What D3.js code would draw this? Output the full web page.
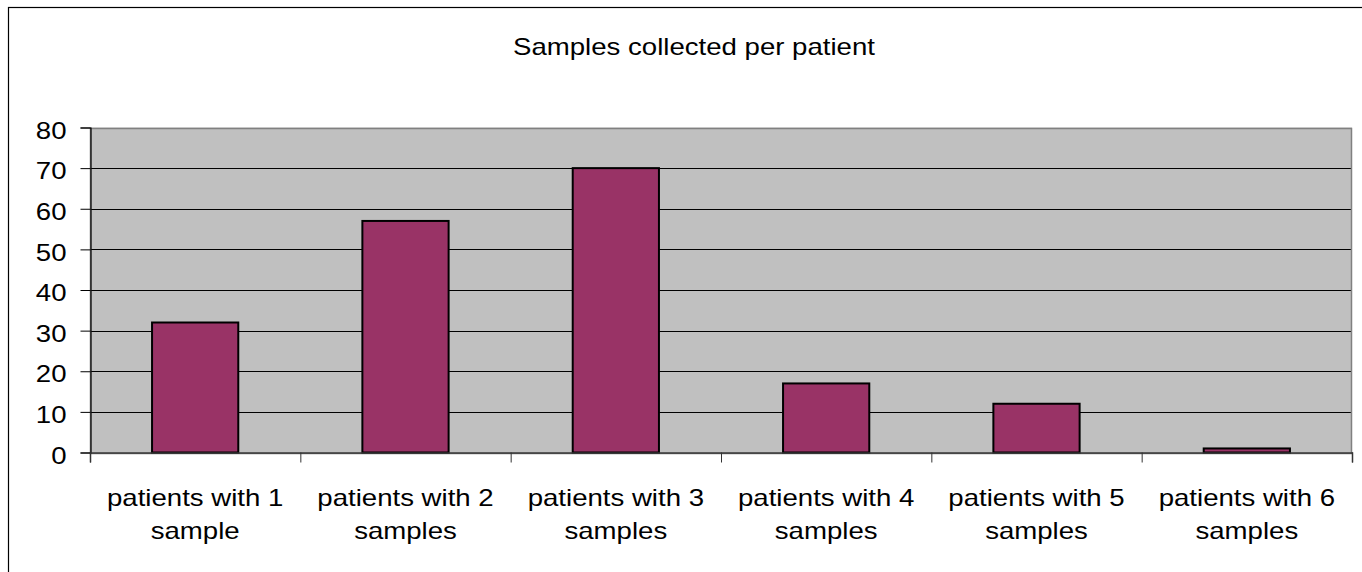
<!DOCTYPE html>
<html>
<head>
<meta charset="utf-8">
<script src="https://cdn.jsdelivr.net/npm/d3@7"></script>
<style>
  html, body { margin: 0; padding: 0; background: #fff; }
  svg { display: block; }
  text { font-family: "Liberation Sans", Arial, sans-serif; fill: #000; }
</style>
</head>
<body>
<svg id="chart" width="1362" height="572"></svg>
<script>
const title = "Samples collected per patient";
const categoryLine1 = ["patients with 1", "patients with 2", "patients with 3", "patients with 4", "patients with 5", "patients with 6"];
const categoryLine2 = ["sample", "samples", "samples", "samples", "samples", "samples"];
const values = [32, 57, 70, 17, 12, 1];
const yTicks = [0, 10, 20, 30, 40, 50, 60, 70, 80];

const W = 1362, H = 572;
const plot = { left: 90, right: 1352, top: 127.5, bottom: 452.5 };
const fontSize = 23;
const stretch = 1.2;

const svg = d3.select("#chart");

// outer chart border (top and left visible)
svg.append("rect")
  .attr("x", 8.5).attr("y", 7.5)
  .attr("width", W + 20).attr("height", H + 20)
  .attr("fill", "#fff").attr("stroke", "#000").attr("stroke-width", 1.2);

const x = d3.scaleBand().domain(d3.range(values.length)).range([plot.left, plot.right]).padding(0);
const y = d3.scaleLinear().domain([0, 80]).range([plot.bottom, plot.top]);

// plot background
svg.append("rect")
  .attr("x", plot.left).attr("y", plot.top)
  .attr("width", plot.right - plot.left).attr("height", plot.bottom - plot.top)
  .attr("fill", "#C0C0C0");

// gridlines
svg.append("g").selectAll("line").data(yTicks.filter(d => d > 0)).join("line")
  .attr("x1", plot.left).attr("x2", plot.right)
  .attr("y1", d => Math.round(y(d)) + 0.5).attr("y2", d => Math.round(y(d)) + 0.5)
  .attr("stroke", "#000").attr("stroke-width", 1);

// plot border
svg.append("rect")
  .attr("x", plot.left + 0.5).attr("y", Math.round(plot.top) + 0.5)
  .attr("width", plot.right - plot.left - 1).attr("height", plot.bottom - plot.top)
  .attr("fill", "none").attr("stroke", "#808080").attr("stroke-width", 1.5);

// bars
const barW = x.bandwidth() * 0.41;
svg.append("g").selectAll("rect").data(values).join("rect")
  .attr("x", (d, i) => x(i) + (x.bandwidth() - barW) / 2)
  .attr("y", d => y(d))
  .attr("width", barW)
  .attr("height", d => y(0) - y(d))
  .attr("fill", "#993366")
  .attr("stroke", "#000").attr("stroke-width", 2);

// y axis
const yAxis = d3.axisLeft(y).tickValues(yTicks).tickSize(10).tickPadding(14);
const gy = svg.append("g").attr("transform", `translate(${plot.left + 0.5},0)`).call(yAxis);
gy.select(".domain").attr("stroke", "#000").attr("stroke-width", 1.2);
gy.selectAll(".tick line").attr("stroke", "#000");
gy.selectAll(".tick text")
  .attr("font-size", fontSize)
  .attr("dy", "0.38em")
  .each(function() {
    const t = d3.select(this);
    const xx = +t.attr("x");
    t.attr("x", null)
     .attr("transform", `translate(${xx},2) scale(${stretch},1)`);
  });

// x axis
const xAxis = d3.axisBottom(d3.scaleLinear().domain([0, values.length]).range([plot.left, plot.right]))
  .tickValues(d3.range(values.length + 1)).tickSize(10).tickFormat("");
const gx = svg.append("g").attr("transform", `translate(0,${plot.bottom})`).call(xAxis);
gx.select(".domain").attr("stroke", "#333").attr("stroke-width", 1.5);
gx.selectAll(".tick line").attr("stroke", "#333");

// category labels
const labels = svg.append("g").selectAll("g").data(values).join("g")
  .attr("transform", (d, i) => `translate(${x(i) + x.bandwidth() / 2},0)`);
labels.append("text")
  .attr("text-anchor", "middle").attr("font-size", fontSize)
  .attr("transform", `translate(0,506) scale(${stretch},1)`)
  .text((d, i) => categoryLine1[i]);
labels.append("text")
  .attr("text-anchor", "middle").attr("font-size", fontSize)
  .attr("transform", `translate(0,539) scale(${stretch},1)`)
  .text((d, i) => categoryLine2[i]);

// title
svg.append("text")
  .attr("text-anchor", "middle").attr("font-size", fontSize)
  .attr("transform", `translate(694,55) scale(${stretch},1)`)
  .text(title);
</script>
</body>
</html>
